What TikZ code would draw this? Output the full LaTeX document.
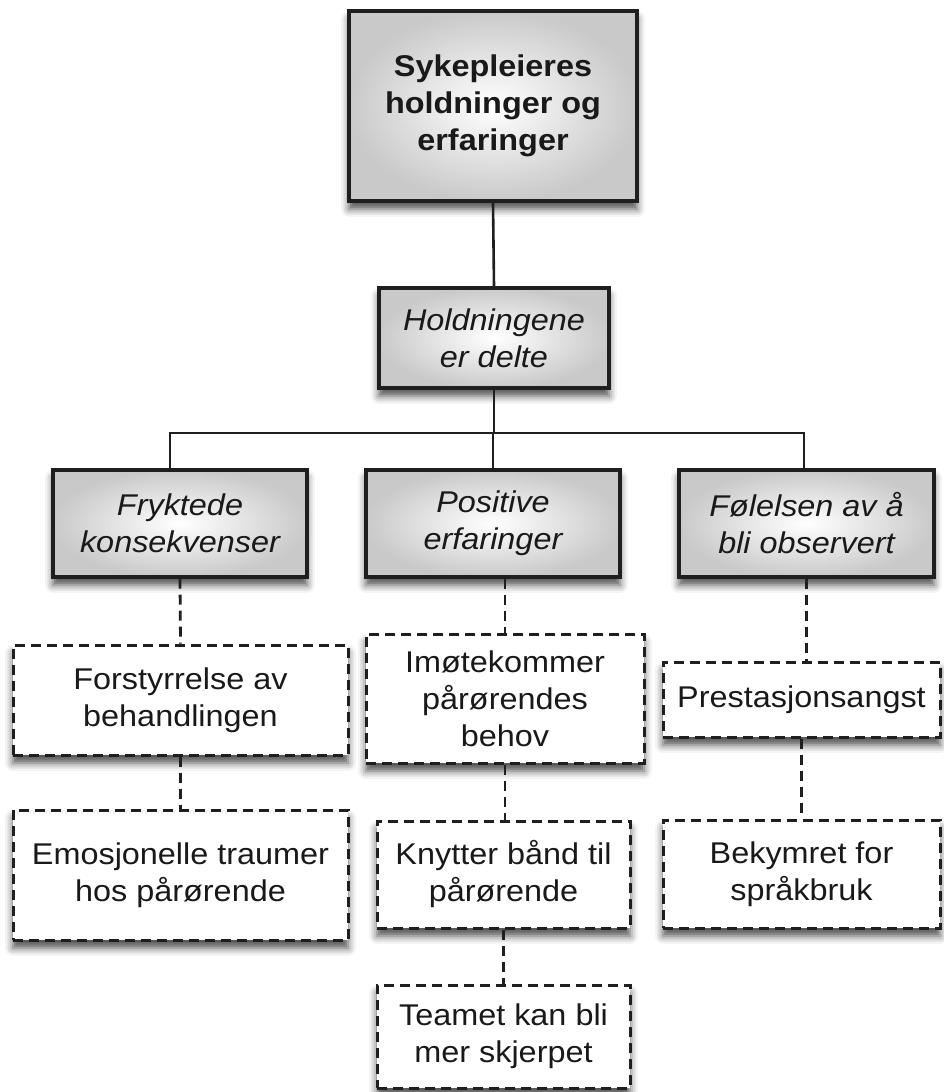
\documentclass[tikz,border=0pt]{standalone}
\usepackage{fontspec}
\setmainfont{Liberation Sans}[FakeStretch=1.08]
\usetikzlibrary{shadows.blur}

\tikzset{
  txt/.style={font=\fontsize{30}{37}\selectfont, text=black!90, align=center, inner sep=0pt},
  shadowed/.style={blur shadow={shadow xshift=0pt, shadow yshift=-8pt,
      shadow blur radius=8pt, shadow opacity=70}},
  solidbox/.style={txt, rectangle, draw=black!88, line width=3.2pt,
      shading=radial, inner color=white, outer color=black!21, shadowed},
  dashbox/.style={txt, rectangle, draw=black!88, line width=3pt,
      dash pattern=on 10pt off 6pt, fill=white, shadowed},
  conn/.style={draw=black!88, line width=2.6pt},
  dconn/.style={draw=black!88, line width=2.8pt, dash pattern=on 10pt off 6pt},
}

\begin{document}
\begin{tikzpicture}[x=1pt, y=-1pt]
\useasboundingbox (0,0) rectangle (944,1092);

% top node and the shared heading
\node[solidbox, minimum width=288pt, minimum height=190pt, font=\fontsize{30}{37}\selectfont\bfseries]
  (top) at (493,106) {Sykepleieres\\holdninger og\\erfaringer};
\node[solidbox, minimum width=230pt, minimum height=100pt, font=\fontsize{30}{37}\selectfont\itshape]
  (mid) at (494,338) {Holdningene\\er delte};

% three themes
\node[solidbox, minimum width=254pt, minimum height=107pt, font=\fontsize{30}{37}\selectfont\itshape]
  (l3a) at (180,523.5) {Fryktede\\konsekvenser};
\node[solidbox, minimum width=254pt, minimum height=107pt, font=\fontsize{30}{37}\selectfont\itshape]
  (l3b) at (493,523.5) {Positive\\erfaringer};
\node[solidbox, minimum width=255pt, minimum height=107pt, font=\fontsize{30}{37}\selectfont\itshape]
  (l3c) at (806.5,523.5) {Følelsen av å\\bli observert};

% sub-themes
\node[dashbox, minimum width=335pt, minimum height=110pt]
  (l4a) at (180.5,700) {Forstyrrelse av\\behandlingen};
\node[dashbox, minimum width=278pt, minimum height=129pt]
  (l4b) at (505,698.5) {Imøtekommer\\pårørendes\\behov};
\node[dashbox, minimum width=277pt, minimum height=75pt]
  (l4c) at (801.5,699.5) {Prestasjonsangst};

\node[dashbox, minimum width=335pt, minimum height=130pt]
  (l5a) at (180.5,875) {Emosjonelle traumer\\hos pårørende};
\node[dashbox, minimum width=253pt, minimum height=107pt]
  (l5b) at (503.5,874.5) {Knytter bånd til\\pårørende};
\node[dashbox, minimum width=277pt, minimum height=108pt]
  (l5c) at (801.5,874) {Bekymret for\\språkbruk};

\node[dashbox, minimum width=253pt, minimum height=103pt]
  (l6) at (503.5,1036.5) {Teamet kan bli\\mer skjerpet};

% solid tree connectors
\coordinate (bus) at (494,433);
\draw[conn] (top.south) -- (mid.north);
\draw[conn] (mid.south) -- (bus);
\draw[conn] ([xshift=-10pt]l3a.north) |- ([xshift=-2.5pt]l3c.north |- bus) -- ([xshift=-2.5pt]l3c.north);
\draw[conn] (l3b.north) -- (l3b.north |- bus);

% dashed connectors
\draw[dconn] (l3a.south) -- (l4a.north);
\draw[dconn] (l4a.south) -- (l5a.north);
\draw[dconn] (l4b.north |- l3b.south) -- (l4b.north);
\draw[dconn] (l4b.south) -- (l4b.south |- l5b.north);
\draw[dconn] (l5b.south) -- (l6.north);
\draw[dconn] (l3c.south) -- (l3c.south |- l4c.north);
\draw[dconn] (l4c.south) -- (l5c.north);
\end{tikzpicture}
\end{document}
